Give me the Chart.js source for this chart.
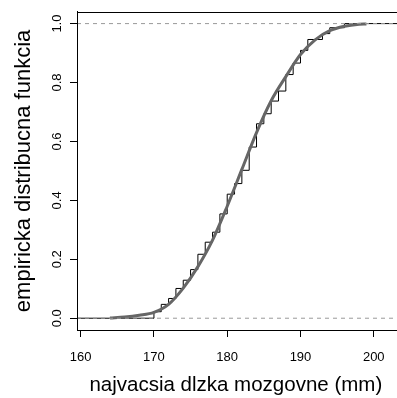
<!DOCTYPE html>
<html>
<head>
<meta charset="utf-8">
<script src="https://cdn.jsdelivr.net/npm/chart.js@4.4.1/dist/chart.umd.min.js"></script>
<style>
  html, body { margin: 0; padding: 0; background: #fff; overflow: hidden; }
  #wrap { width: 397px; height: 398px; overflow: hidden; }
  #wrap canvas { display: block; }
</style>
</head>
<body>
<div id="wrap"><canvas id="ecdfChart" width="406" height="398"></canvas></div>
<script>
// empirical distribution: jump points (mm) and level after each jump
const stepX = [170, 171, 172, 173, 174, 175, 176, 177, 178, 179, 180, 181, 182,
               183, 184, 185, 186, 187, 188, 189, 190, 191, 193, 194, 196];
const stepF = [0.022, 0.047, 0.067, 0.101, 0.129, 0.165, 0.217, 0.258, 0.292, 0.354,
               0.421, 0.457, 0.502, 0.581, 0.660, 0.694, 0.737, 0.771, 0.827, 0.866,
               0.909, 0.946, 0.966, 0.986, 1.000];

// fitted distribution curve
const curveX = [164, 166, 168, 170, 172, 174, 176, 178, 180, 182,
                184, 186, 188, 190, 192, 194, 196, 198, 199];
const curveF = [0.001, 0.004, 0.010, 0.020, 0.047, 0.102, 0.175, 0.265, 0.380, 0.505,
                0.630, 0.738, 0.820, 0.895, 0.945, 0.976, 0.991, 0.998, 0.999];

const xTicks = [160, 170, 180, 190, 200];
const yTicks = [0, 0.2, 0.4, 0.6, 0.8, 1.0];
const refLevels = [0, 1];

const X_MIN = 159.5, X_MAX = 204.4;
const Y_MIN = -0.04, Y_MAX = 1.04;

const FONT = "'Liberation Sans', Arial, sans-serif";

// R-like box around the plot region
const boxPlugin = {
    id: 'plotBox',
    afterDraw(chart) {
        const { ctx, chartArea: a } = chart;
        ctx.save();
        ctx.strokeStyle = '#000';
        ctx.lineWidth = 1;
        ctx.strokeRect(Math.round(a.left) + 0.5, Math.round(a.top) + 0.5,
                       Math.round(a.right - a.left), Math.round(a.bottom - a.top));
        ctx.restore();
    }
};

const ecdfPoints = [{ x: X_MIN, y: 0 }]
    .concat(stepX.map((x, i) => ({ x: x, y: stepF[i] })))
    .concat([{ x: X_MAX, y: stepF[stepF.length - 1] }]);

const refSets = refLevels.map(level => ({
    data: [{ x: X_MIN, y: level }, { x: X_MAX, y: level }],
    borderColor: '#9a9a9a',
    borderWidth: 1,
    borderDash: [4, 4],
    pointRadius: 0,
    order: 0
}));

new Chart(document.getElementById('ecdfChart'), {
    type: 'line',
    data: {
        datasets: refSets.concat([
            {
                data: curveX.map((x, i) => ({ x: x, y: curveF[i] })),
                borderColor: '#666666',
                borderWidth: 3,
                pointRadius: 0,
                cubicInterpolationMode: 'monotone',
                order: 1
            },
            {
                data: ecdfPoints,
                borderColor: '#000000',
                borderWidth: 1,
                pointRadius: 0,
                stepped: 'before',
                order: 2
            }
        ])
    },
    options: {
        responsive: false,
        animation: false,
        layout: { padding: { top: 9, right: 0, bottom: 0, left: 0 } },
        plugins: { legend: { display: false }, tooltip: { enabled: false } },
        scales: {
            x: {
                type: 'linear',
                min: X_MIN,
                max: X_MAX,
                afterBuildTicks: scale => { scale.ticks = xTicks.map(v => ({ value: v })); },
                afterFit: scale => { scale.height = 68; },
                grid: { drawOnChartArea: false, tickLength: 7, color: '#000', tickColor: '#000' },
                border: { color: '#000' },
                ticks: { color: '#000', padding: 13, maxRotation: 0, font: { family: FONT, size: 13 } },
                title: {
                    display: true,
                    // trailing spaces pull the centred title a little left, as in the original
                    text: 'najvacsia dlzka mozgovne (mm)  ',
                    color: '#000',
                    font: { family: FONT, size: 20.5 },
                    padding: { top: 0, bottom: 0 }
                }
            },
            y: {
                type: 'linear',
                min: Y_MIN,
                max: Y_MAX,
                afterBuildTicks: scale => { scale.ticks = yTicks.map(v => ({ value: v })); },
                afterFit: scale => { scale.width = 77; },
                grid: { drawOnChartArea: false, tickLength: 7, color: '#000', tickColor: '#000' },
                border: { color: '#000' },
                ticks: {
                    color: '#000',
                    padding: 4,
                    minRotation: 90,
                    maxRotation: 90,
                    crossAlign: 'center',
                    font: { family: FONT, size: 13 },
                    callback: v => v.toFixed(1)
                },
                title: {
                    display: true,
                    text: 'empiricka distribucna funkcia',
                    color: '#000',
                    font: { family: FONT, size: 22 },
                    padding: { top: 11, bottom: 0 }
                }
            }
        }
    },
    plugins: [boxPlugin]
});
</script>
</body>
</html>
